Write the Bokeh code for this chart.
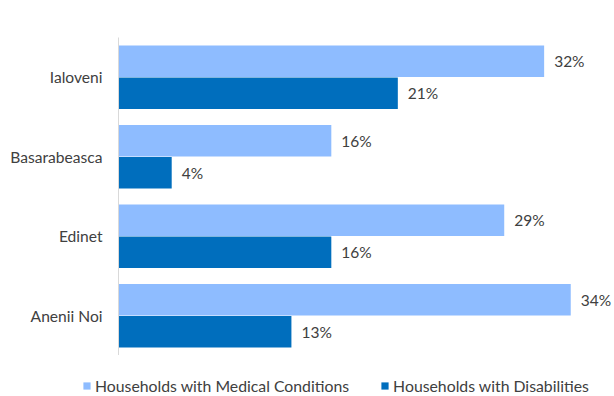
from bokeh.plotting import figure
from bokeh.layouts import column
from bokeh.models import ColumnDataSource, Range1d, Legend, LegendItem
from bokeh.transform import dodge
from bokeh.core.properties import value
from bokeh.embed import file_html
from bokeh.resources import INLINE

regions = ["Ialoveni", "Basarabeasca", "Edinet", "Anenii Noi"]
medical = [32, 16, 29, 34]
disabilities = [21, 4, 16, 13]
series_names = ["Households with Medical Conditions", "Households with Disabilities"]
colors = ["#8EBCFF", "#006EBD"]

src = ColumnDataSource(dict(
    region=regions,
    medical=medical,
    disab=disabilities,
    medical_lbl=[f"{v}%" for v in medical],
    disab_lbl=[f"{v}%" for v in disabilities],
))

p = figure(width=614, height=355, output_backend="svg", toolbar_location=None,
           y_range=list(reversed(regions)),
           x_range=Range1d(0, 37.29),
           min_border_left=118, min_border_top=37, min_border_right=0, min_border_bottom=0)
p.y_range.range_padding = 0
p.frame_align = False

r1 = p.hbar(y=dodge("region", 0.2, range=p.y_range), right="medical", left=0, height=0.396,
            source=src, fill_color=colors[0], line_color=None)
r2 = p.hbar(y=dodge("region", -0.2, range=p.y_range), right="disab", left=0, height=0.396,
            source=src, fill_color=colors[1], line_color=None)

common = dict(text_font=value("Lato"), text_font_size="15.5px", text_color="#404040",
              text_baseline="middle", text_align="left", x_offset=10)
p.text(x="medical", y=dodge("region", 0.2, range=p.y_range), text="medical_lbl", source=src, **common)
p.text(x="disab", y=dodge("region", -0.2, range=p.y_range), text="disab_lbl", source=src, **common)

p.xaxis.visible = False
p.xgrid.visible = False
p.ygrid.visible = False
p.outline_line_color = None

ax = p.yaxis[0]
ax.axis_line_color = "#D9D9D9"
ax.axis_line_width = 1
ax.major_tick_line_color = None
ax.minor_tick_line_color = None
ax.major_tick_out = 0
ax.major_tick_in = 0
ax.major_label_standoff = 16
ax.major_label_text_font = "Lato"
ax.major_label_text_font_size = "15.6px"
ax.major_label_text_color = "#404040"

# legend strip below the chart (its zero-size bars only feed the legend swatches)
p2 = figure(width=614, height=41, output_backend="svg", toolbar_location=None,
            x_range=Range1d(0, 1), y_range=Range1d(-1, 0),
            min_border_left=0, min_border_top=0, min_border_right=0, min_border_bottom=0)
p2.frame_align = False
p2.axis.visible = False
p2.grid.visible = False
p2.outline_line_color = None
l1 = p2.hbar(y="medical", right="medical", left="medical", height=0, source=src,
             fill_color=colors[0], line_color=None)
l2 = p2.hbar(y="disab", right="disab", left="disab", height=0, source=src,
             fill_color=colors[1], line_color=None)

legend = Legend(items=[LegendItem(label=series_names[0], renderers=[l1], index=0),
                       LegendItem(label=series_names[1], renderers=[l2], index=0)],
                orientation="horizontal", location=(82, 1),
                glyph_width=9, glyph_height=9, label_standoff=4, spacing=31,
                label_text_font="Lato", label_text_font_size="15.8px", label_text_color="#404040",
                border_line_color=None, background_fill_alpha=0, padding=0, margin=0,
                label_height=16)
p2.add_layout(legend, "center")

open("out.html", "w").write(file_html(column(p, p2, spacing=0), INLINE))
